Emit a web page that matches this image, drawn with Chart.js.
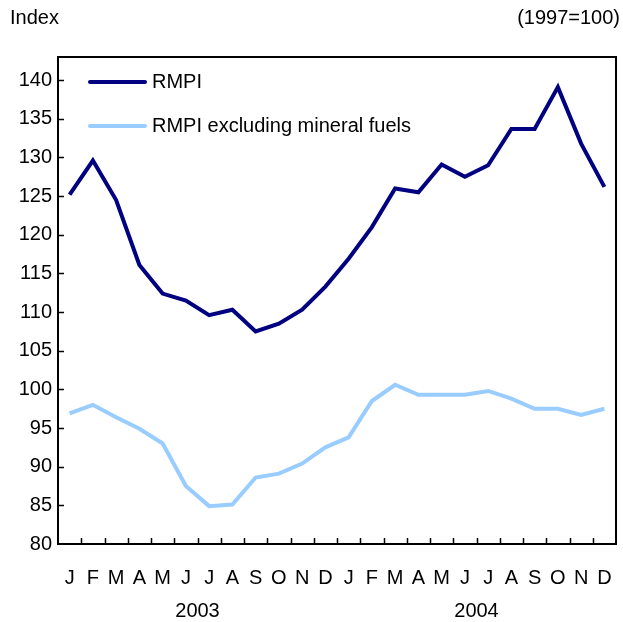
<!DOCTYPE html>
<html>
<head>
<meta charset="utf-8">
<script src="https://cdn.jsdelivr.net/npm/chart.js@4/dist/chart.umd.min.js"></script>
<style>
  html,body{margin:0;padding:0;background:#fff;}
  #wrap{width:623px;height:622px;}
</style>
</head>
<body>
<div id="wrap"><canvas id="c" width="623" height="622"></canvas></div>
<script>
// ── DATA ──
const months = ['J','F','M','A','M','J','J','A','S','O','N','D','J','F','M','A','M','J','J','A','S','O','N','D'];
const years  = ['2003','2004'];
const rmpi   = [125.2,129.6,124.5,116.1,112.4,111.5,109.6,110.3,107.5,108.5,110.3,113.3,
                116.9,121.0,126.0,125.5,129.1,127.5,129.0,133.7,133.7,139.1,131.8,126.2];
const rmpiExFuels = [96.9,98.0,96.4,94.9,93.0,87.5,84.9,85.1,88.6,89.1,90.4,92.5,
                     93.8,98.5,100.6,99.3,99.3,99.3,99.8,98.8,97.5,97.5,96.7,97.5];
const seriesNames = ['RMPI','RMPI excluding mineral fuels'];
const yMin = 80, yMax = 143, yStep = 5;

const FONT = "'Liberation Sans', Arial, sans-serif";
const COLORS = { navy:'#000080', sky:'#99CCFF', ink:'#000000' };

// box, inward ticks, year labels, legend, header texts
const decor = {
  id:'decor',
  afterDraw(chart){
    const {ctx, chartArea:a, scales:{x,y}} = chart;
    ctx.save();
    ctx.strokeStyle = COLORS.ink;
    ctx.lineWidth = 2;
    ctx.strokeRect(a.left, a.top, a.right - a.left, a.bottom - a.top);

    ctx.lineWidth = 1.5;
    ctx.beginPath();
    for(let i=0;i<months.length-1;i++){
      const px = Math.round((x.getPixelForValue(i)+x.getPixelForValue(i+1))/2)+0.5;
      ctx.moveTo(px, a.bottom); ctx.lineTo(px, a.bottom-6);
    }
    y.ticks.forEach(t=>{
      if(t.value<=yMin) return;
      const py = Math.round(y.getPixelForValue(t.value))+0.5;
      ctx.moveTo(a.left, py); ctx.lineTo(a.left+6, py);
    });
    ctx.stroke();

    ctx.fillStyle = COLORS.ink;
    ctx.font = '20px ' + FONT;
    ctx.textBaseline = 'middle';
    ctx.textAlign = 'center';
    years.forEach((yr,k)=>{
      const cx = (x.getPixelForValue(k*12)+x.getPixelForValue(k*12+11))/2;
      ctx.fillText(yr, cx, 611);
    });

    ctx.textAlign = 'left';
    ctx.fillText('Index', 10, 18);
    ctx.textAlign = 'right';
    ctx.fillText('(1997=100)', 620, 18);

    // legend
    ctx.textAlign = 'left';
    chart.data.datasets.forEach((ds,k)=>{
      const ly = 82 + k*44;
      ctx.strokeStyle = ds.borderColor;
      ctx.lineWidth = ds.borderWidth;
      ctx.lineCap = 'round';
      ctx.beginPath(); ctx.moveTo(90, ly); ctx.lineTo(145, ly); ctx.stroke();
      ctx.fillStyle = COLORS.ink;
      ctx.fillText(ds.label, 152, ly);
    });
    ctx.restore();
  }
};

new Chart(document.getElementById('c').getContext('2d'),{
  type:'line',
  data:{
    labels: months,
    datasets:[
      {label:seriesNames[0], data:rmpi, borderColor:COLORS.navy, borderWidth:4, pointRadius:0, tension:0, fill:false},
      {label:seriesNames[1], data:rmpiExFuels, borderColor:COLORS.sky, borderWidth:4, pointRadius:0, tension:0, fill:false}
    ]
  },
  options:{
    responsive:false, animation:false, devicePixelRatio:1,
    layout:{padding:{top:57,right:7,left:0,bottom:0}},
    plugins:{legend:{display:false}, tooltip:{enabled:false}},
    scales:{
      x:{
        offset:true,
        grid:{display:false, drawTicks:false},
        border:{display:false},
        ticks:{color:COLORS.ink, font:{family:FONT,size:20}, padding:22, autoSkip:false, maxRotation:0},
        afterFit(s){ s.height = 78; s.paddingLeft = 0; s.paddingRight = 0; }
      },
      y:{
        min:yMin, max:yMax,
        grid:{display:false, drawTicks:false},
        border:{display:false},
        ticks:{stepSize:yStep, includeBounds:false, color:COLORS.ink, font:{family:FONT,size:20}, padding:6},
        afterFit(s){ s.width = 58; s.paddingTop = 0; s.paddingBottom = 0; }
      }
    }
  },
  plugins:[decor]
});
</script>
</body>
</html>
